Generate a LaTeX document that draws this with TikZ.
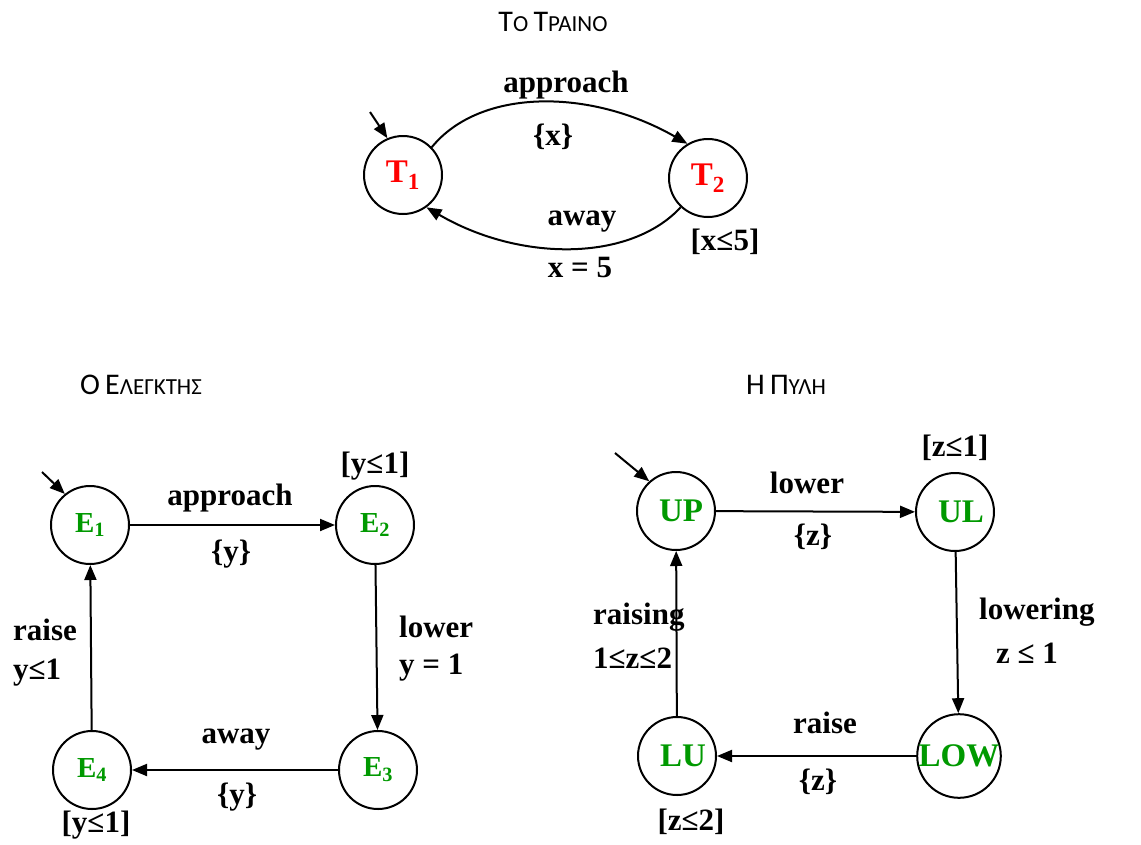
\documentclass[tikz,border=0pt]{standalone}
\usepackage{fontspec}
\setmainfont{Liberation Serif}
\newfontfamily\titlefont{Carlito}
\usetikzlibrary{arrows.meta}
\definecolor{stgreen}{RGB}{0,153,0}
\definecolor{stred}{RGB}{255,0,0}
\newcommand\bigsc[1]{{\fontsize{30}{30}\selectfont #1}}
\newcommand\smsc[1]{{\fontsize{23}{23}\selectfont #1}}
\begin{document}
\begin{tikzpicture}[x=1pt,y=-1pt,
  state/.style={circle,draw,line width=2pt,minimum size=78pt,inner sep=0pt,font=\bfseries\fontsize{33}{33}\selectfont},
  estate/.style={state,font=\bfseries\fontsize{29}{29}\selectfont},
  arr/.style={line width=2pt,-{Triangle[length=15pt,width=12pt]}},
  lab/.style={font=\bfseries\fontsize{31}{31}\selectfont,inner sep=0pt},
  ttl/.style={font=\titlefont\fontsize{23}{23}\selectfont,inner sep=0pt}]
\useasboundingbox (0,0) rectangle (1141,844);

% ---------- Train ----------
\node[ttl] (t0) at (553,22) {\bigsc{Τ}\smsc{Ο} \bigsc{Τ}\smsc{ΡΑΙΝΟ}};
\node[state,text=stred] (T1) at (403,175) {T\textsubscript{1}};
\node[state,text=stred] (T2) at (708,178) {T\textsubscript{2}};
\coordinate (iT) at (370,112);
\draw[arr] (iT) -- (T1.113);
\draw[arr] (T1.44) .. controls (480,88) and (590,88) .. (T2.121);
\draw[arr] (T2.227) .. controls (630,262) and (520,262) .. (T1.306);
\node[lab] (la1) at (566,85) {approach};
\node[lab] (la2) at (553,137) {\{x\}};
\node[lab] (la3) at (582,222) {away};
\node[lab] (la4) at (580,267) {x = 5};
\node[lab] (la5) at (725,242) {[x≤5]};

% ---------- Controller ----------
\node[ttl] (e0) at (141,385) {\bigsc{Ο} \bigsc{Ε}\smsc{ΛΕΓΚΤΗΣ}};
\node[estate,text=stgreen] (E1) at (90,525) {E\textsubscript{1}};
\node[estate,text=stgreen] (E2) at (375,525) {E\textsubscript{2}};
\node[estate,text=stgreen] (E3) at (378,770) {E\textsubscript{3}};
\node[estate,text=stgreen] (E4) at (92,770) {E\textsubscript{4}};
\coordinate (iE) at (42,472);
\draw[arr] (iE) -- (E1.129);
\draw[arr] (E1) -- (E2);
\draw[arr] (E2) -- (E3);
\draw[arr] (E3) -- (E4);
\draw[arr] (E4) -- (E1);
\node[lab] (lb1) at (230,498) {approach};
\node[lab] (lb2) at (231,554) {\{y\}};
\node[lab] (lb3) at (375,466) {[y≤1]};
\node[lab,anchor=west] (lb4) at (399,627) {lower};
\node[lab,anchor=west] (lb5) at (399,668) {y = 1};
\node[lab] (lb6) at (236,740) {away};
\node[lab] (lb7) at (237,797) {\{y\}};
\node[lab] (lb8) at (96,825) {[y≤1]};
\node[lab,anchor=west] (lb9) at (13,630) {raise};
\node[lab,anchor=west] (lb10) at (13,673) {y≤1};

% ---------- Gate ----------
\node[ttl] (g0) at (786,385) {\bigsc{Η} \bigsc{Π}\smsc{ΥΛΗ}};
\node[state,text=stgreen] (UP) at (676,511) {\hspace*{10pt}UP};
\node[state,text=stgreen] (UL) at (955,512) {\hspace*{12pt}UL};
\node[state,text=stgreen] (LOW) at (959,756) {LOW};
\node[state,text=stgreen] (LU) at (677,756) {\hspace*{12pt}LU};
\coordinate (iU) at (615,453);
\draw[arr] (iU) -- (UP.132);
\draw[arr] (UP) -- (UL);
\draw[arr] (UL) -- (LOW);
\draw[arr] (LOW) -- (LU);
\draw[arr] (LU) -- (UP);
\node[lab] (lc1) at (807,483) {lower};
\node[lab] (lc2) at (813,537) {\{z\}};
\node[lab] (lc3) at (955,448) {[z≤1]};
\node[lab,anchor=west] (lc4) at (979,612) {lowering};
\node[lab] (lc5) at (1027,653) {z ≤ 1};
\node[lab] (lc6) at (825,723) {raise};
\node[lab] (lc7) at (818,782) {\{z\}};
\node[lab] (lc8) at (691,822) {[z≤2]};
\node[lab,anchor=west] (lc9) at (593,617) {raising};
\node[lab,anchor=west] (lc10) at (593,658) {1≤z≤2};
\end{tikzpicture}
\end{document}
